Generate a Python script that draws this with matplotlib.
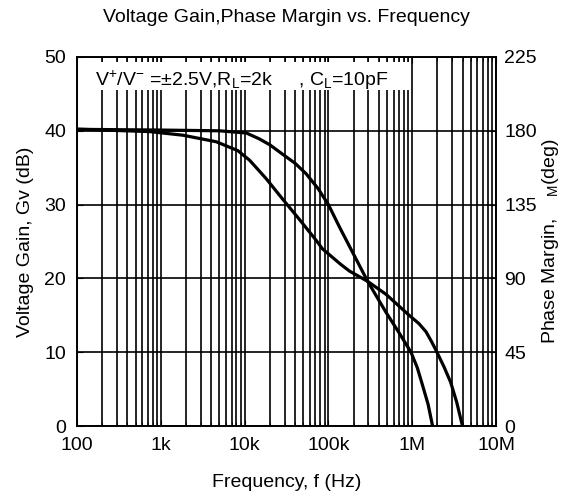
import numpy as np
import matplotlib
matplotlib.use("Agg")
import matplotlib.pyplot as plt
from matplotlib.patches import Rectangle
from matplotlib.ticker import LogLocator, NullFormatter

plt.rcParams['font.family'] = ['Liberation Sans', 'DejaVu Sans']
plt.rcParams['mathtext.fontset'] = 'custom'
plt.rcParams['mathtext.rm'] = 'Liberation Sans'
plt.rcParams['mathtext.it'] = 'Liberation Sans'

# voltage gain curve (dB)
gain_f = [100, 1e3, 5e3, 10.5e3, 15e3, 20e3, 28.6e3, 40e3, 54e3, 75e3,
          100e3, 135e3, 195e3, 294e3, 487e3, 700e3, 967e3, 1.15e6, 1.33e6,
          1.55e6, 1.75e6]
gain_db = [40.2, 40.1, 40.0, 39.7, 38.9, 38.1, 36.8, 35.6, 34.2, 32.2,
           30.0, 27.0, 23.5, 19.6, 15.4, 12.6, 10.0, 7.9, 5.5,
           2.9, 0.0]

# phase margin curve (deg)
phase_f = [100, 740, 1.84e3, 4.6e3, 8.3e3, 11.5e3, 18.1e3, 28.6e3, 45e3,
           71e3, 85e3, 103e3, 140e3, 178e3, 294e3, 487e3, 920e3, 1.2e6,
           1.46e6, 1.7e6, 1.91e6, 2.4e6, 2.88e6, 3.4e6, 3.98e6]
phase_deg = [181, 179.5, 177.3, 173.3, 167.9, 162, 150.8, 138.2, 126,
             113.4, 108, 104.4, 98.6, 94.5, 88.2, 80.3, 67.5, 62.5,
             57.5, 51.5, 46.5, 36, 26.6, 14.4, 0]

xticks = [100, 1e3, 1e4, 1e5, 1e6, 1e7]
xlabels = ['100', '1k', '10k', '100k', '1M', '10M']
gain_ticks = [0, 10, 20, 30, 40, 50]
phase_ticks = [0, 45, 90, 135, 180, 225]

fig = plt.figure(figsize=(5.67, 4.96), dpi=100)
ax = fig.add_axes([0.1358, 0.1411, 0.739, 0.744])

ax.set_xscale('log')
ax.set_xlim(100, 1e7)
ax.set_ylim(0, 50)
ax.set_xticks(xticks)
ax.set_xticklabels(xlabels)
ax.xaxis.set_minor_locator(LogLocator(base=10, subs=np.arange(2, 10)))
ax.xaxis.set_minor_formatter(NullFormatter())
ax.set_yticks(gain_ticks)

ax.grid(True, which='major', axis='y', color='black', lw=1.2)
ax.grid(True, which='both', axis='x', color='black', lw=1.2)
ax.tick_params(which='both', direction='in', labelsize=14, color='black',
               length=4, pad=8, top=True)
ax.tick_params(which='minor', length=3)

ax.plot(gain_f, gain_db, color='black', lw=2.3, solid_joinstyle='round')

ax2 = ax.twinx()
ax2.set_ylim(0, 225)
ax2.set_yticks(phase_ticks)
ax2.tick_params(direction='in', labelsize=14, length=4, pad=6)
ax2.plot(phase_f, phase_deg, color='black', lw=2.3, solid_joinstyle='round')

for a in (ax, ax2):
    for s in a.spines.values():
        s.set_linewidth(1.2)

ax.set_xlabel('Frequency, f (Hz)', fontsize=14, labelpad=14)
ax.set_ylabel('Voltage Gain, Gv (dB)', fontsize=14, labelpad=7)
ax2.set_ylabel(r'Phase Margin,    $_{\rm M}$(deg)', fontsize=14, labelpad=2)
ax.set_title('Voltage Gain,Phase Margin vs. Frequency', fontsize=14, pad=25)

# white label box at top left
ax.add_patch(Rectangle((0.003, 0.911), 0.79, 0.075, transform=ax.transAxes,
                       facecolor='white', edgecolor='none', zorder=4))
ax.text(0.043, 0.968,
        r'V$^{+}$/V$^{-}$ =$\pm$2.5V,R$_{\rm L}$=2k     , C$_{\rm L}$=10pF',
        transform=ax.transAxes, fontsize=14, va='top', ha='left', zorder=5)

fig.savefig('out.png', dpi=100)
